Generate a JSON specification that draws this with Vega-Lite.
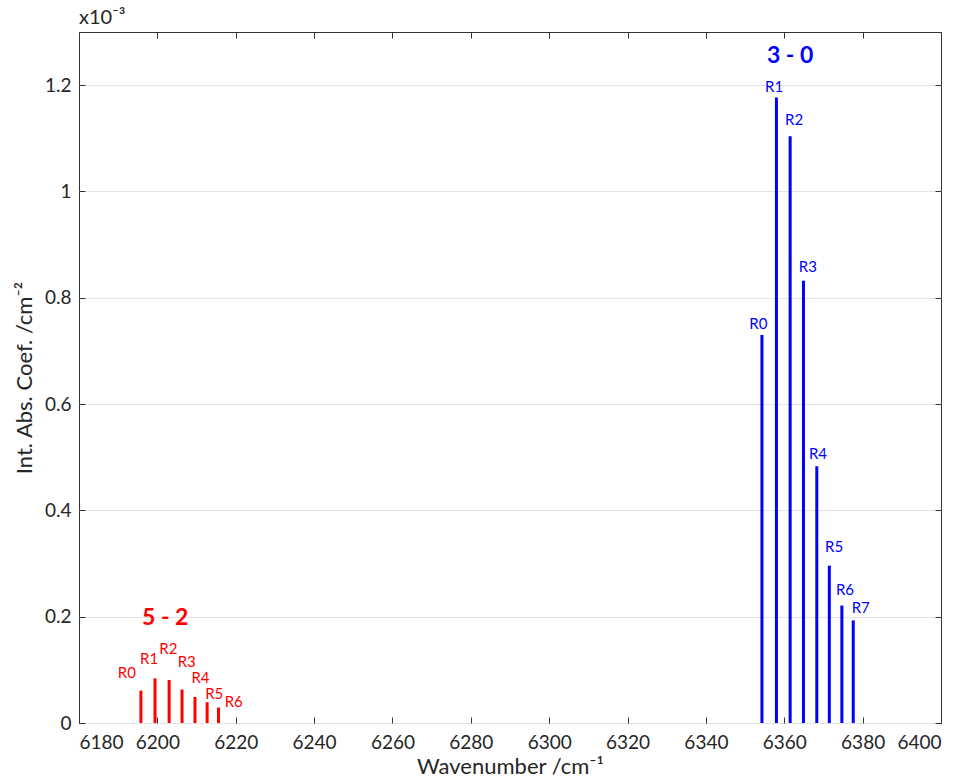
{
  "$schema": "https://vega.github.io/schema/vega-lite/v6.json",
  "width": 862,
  "height": 691,
  "autosize": "none",
  "padding": {"left": 79, "top": 32, "right": 26, "bottom": 59},
  "background": "white",
  "config": {
    "font": "Lato",
    "view": {"stroke": "#333333", "strokeWidth": 1},
    "axis": {
      "labelFont": "Lato",
      "titleFont": "Lato",
      "labelFontSize": 19,
      "titleFontSize": 22,
      "titleFontWeight": "normal",
      "labelColor": "#262626",
      "titleColor": "#262626",
      "domainColor": "#333333",
      "tickColor": "#333333",
      "gridColor": "#e3e3e3",
      "gridWidth": 1
    }
  },
  "title": {
    "text": "x10⁻³",
    "anchor": "start",
    "frame": "group",
    "fontSize": 20,
    "fontWeight": "normal",
    "font": "Lato",
    "color": "#262626",
    "offset": 4
  },
  "datasets": {
    "lines": [
      {"band": "5 - 2", "line": "R0", "wn": 6195.8, "val": 0.061, "lx": 6192.2, "ly": 0.094},
      {"band": "5 - 2", "line": "R1", "wn": 6199.4, "val": 0.084, "lx": 6197.9, "ly": 0.120},
      {"band": "5 - 2", "line": "R2", "wn": 6203.0, "val": 0.081, "lx": 6202.8, "ly": 0.139},
      {"band": "5 - 2", "line": "R3", "wn": 6206.3, "val": 0.063, "lx": 6207.5, "ly": 0.115},
      {"band": "5 - 2", "line": "R4", "wn": 6209.6, "val": 0.049, "lx": 6211.0, "ly": 0.084},
      {"band": "5 - 2", "line": "R5", "wn": 6212.7, "val": 0.039, "lx": 6214.5, "ly": 0.054},
      {"band": "5 - 2", "line": "R6", "wn": 6215.6, "val": 0.029, "lx": 6219.5, "ly": 0.040},
      {"band": "3 - 0", "line": "R0", "wn": 6354.3, "val": 0.730, "lx": 6353.4, "ly": 0.751},
      {"band": "3 - 0", "line": "R1", "wn": 6358.0, "val": 1.177, "lx": 6357.4, "ly": 1.196},
      {"band": "3 - 0", "line": "R2", "wn": 6361.5, "val": 1.104, "lx": 6362.5, "ly": 1.134},
      {"band": "3 - 0", "line": "R3", "wn": 6364.9, "val": 0.832, "lx": 6366.0, "ly": 0.858},
      {"band": "3 - 0", "line": "R4", "wn": 6368.3, "val": 0.483, "lx": 6368.6, "ly": 0.507},
      {"band": "3 - 0", "line": "R5", "wn": 6371.5, "val": 0.296, "lx": 6372.7, "ly": 0.331},
      {"band": "3 - 0", "line": "R6", "wn": 6374.7, "val": 0.221, "lx": 6375.5, "ly": 0.250},
      {"band": "3 - 0", "line": "R7", "wn": 6377.6, "val": 0.193, "lx": 6379.5, "ly": 0.216}
    ],
    "groups": [
      {"band": "3 - 0", "gx": 6361.5, "gy": 1.254},
      {"band": "5 - 2", "gx": 6202.0, "gy": 0.197}
    ]
  },
  "layer": [
    {
      "data": {"name": "lines"},
      "mark": {"type": "rule", "strokeWidth": 3},
      "encoding": {
        "x": {
          "field": "wn", "type": "quantitative",
          "scale": {"domain": [6180, 6400], "nice": false, "zero": false},
          "axis": {"orient": "bottom", "title": "Wavenumber /cm⁻¹", "values": [6180,6200,6220,6240,6260,6280,6300,6320,6340,6360,6380,6400], "format": "d", "grid": false, "tickSize": -6, "labelPadding": 16, "titlePadding": 4, "domain": false}
        },
        "y": {
          "field": "val", "type": "quantitative",
          "scale": {"domain": [0, 1.3], "nice": false},
          "axis": {"orient": "left", "title": "Int. Abs. Coef. /cm⁻²", "values": [0,0.2,0.4,0.6,0.8,1,1.2], "format": "~g", "grid": true, "tickSize": -6, "labelPadding": 14, "titlePadding": 8, "domain": false}
        },
        "y2": {"datum": 0},
        "color": {"field": "band", "type": "nominal", "scale": {"domain": ["3 - 0", "5 - 2"], "range": ["#0000ff", "#ff0000"]}, "legend": null}
      }
    },
    {
      "data": {"name": "lines"},
      "mark": {"type": "text", "fontSize": 15, "baseline": "middle", "align": "center", "font": "Lato"},
      "encoding": {
        "x": {"field": "lx", "type": "quantitative", "axis": null},
        "y": {"field": "ly", "type": "quantitative", "axis": null},
        "text": {"field": "line"},
        "color": {"field": "band", "type": "nominal", "legend": null}
      }
    },
    {
      "data": {"name": "groups"},
      "mark": {"type": "text", "fontSize": 23, "fontWeight": "bold", "baseline": "middle", "align": "center", "font": "Lato"},
      "encoding": {
        "x": {"field": "gx", "type": "quantitative", "axis": null},
        "y": {"field": "gy", "type": "quantitative", "axis": null},
        "text": {"field": "band"},
        "color": {"field": "band", "type": "nominal", "legend": null}
      }
    },
    {
      "data": {"name": "lines"},
      "mark": {"type": "point", "opacity": 0},
      "encoding": {
        "x": {"field": "wn", "type": "quantitative", "axis": {"orient": "top", "title": null, "labels": false, "values": [6180,6200,6220,6240,6260,6280,6300,6320,6340,6360,6380,6400], "grid": false, "tickSize": -6, "domain": false}},
        "y": {"field": "val", "type": "quantitative", "axis": {"orient": "right", "title": null, "labels": false, "values": [0,0.2,0.4,0.6,0.8,1,1.2], "grid": false, "tickSize": -6, "domain": false}}
      }
    }
  ],
  "resolve": {"axis": {"x": "independent", "y": "independent"}}
}
